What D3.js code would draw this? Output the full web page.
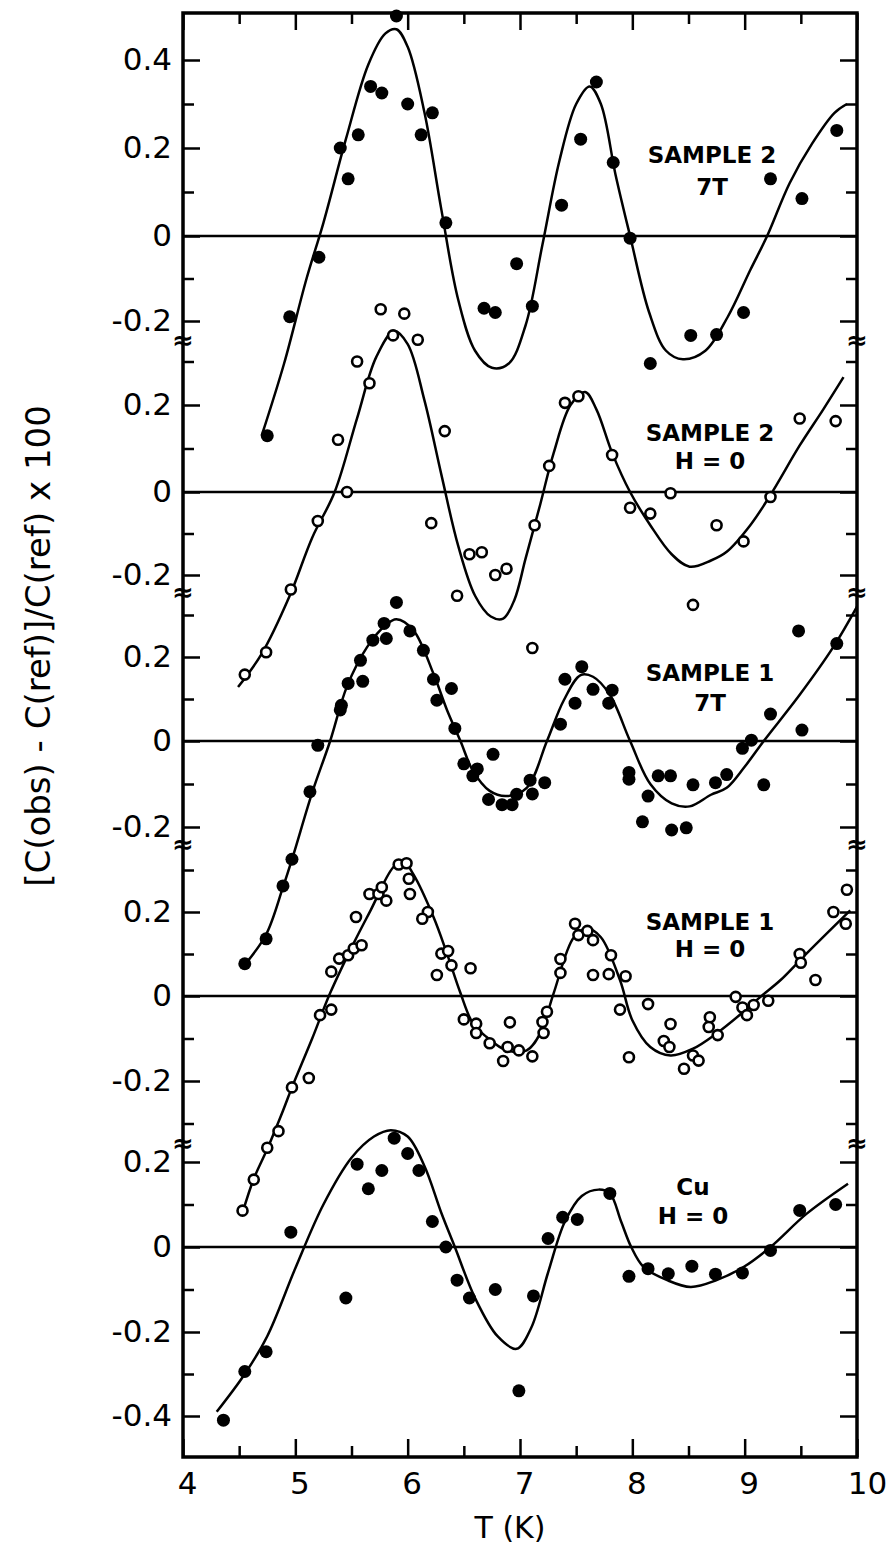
<!DOCTYPE html>
<html>
<head>
<meta charset="utf-8">
<script src="https://cdn.jsdelivr.net/npm/d3@7"></script>
<style>
  body { margin: 0; background: #fff; }
  text { font-family: "DejaVu Sans", sans-serif; }
</style>
</head>
<body>
<div id="chart"></div>
<script>
// data points [T (K), value] per panel, top to bottom
const s2_7T_pts = [[4.75,-0.47],[4.95,-0.19],[5.21,-0.05],[5.40,0.20],[5.47,0.13],[5.56,0.23],[5.67,0.34],[5.77,0.325],[5.90,0.50],[6.00,0.30],[6.12,0.23],[6.22,0.28],[6.34,0.03],[6.68,-0.17],[6.78,-0.18],[6.97,-0.065],[7.11,-0.165],[7.37,0.07],[7.54,0.22],[7.68,0.35],[7.83,0.167],[7.98,-0.005],[8.16,-0.30],[8.52,-0.234],[8.75,-0.232],[8.99,-0.18],[9.23,0.13],[9.51,0.085],[9.82,0.24]]
const s2_7T_fit = [[4.70,-0.47],[4.90,-0.30],[5.10,-0.10],[5.25,0.03],[5.45,0.22],[5.65,0.39],[5.80,0.46],[5.90,0.47],[6.00,0.43],[6.15,0.28],[6.30,0.06],[6.45,-0.15],[6.60,-0.27],[6.75,-0.31],[6.90,-0.30],[7.05,-0.21],[7.20,-0.02],[7.35,0.17],[7.50,0.30],[7.62,0.34],[7.72,0.30],[7.85,0.14],[7.98,0.0],[8.15,-0.18],[8.30,-0.27],[8.45,-0.29],[8.65,-0.27],[8.85,-0.19],[9.05,-0.08],[9.20,0.0],[9.40,0.12],[9.60,0.21],[9.80,0.28],[9.91,0.30]]

const s2_H0_pts = [[4.55,-0.44],[4.74,-0.386],[4.96,-0.235],[5.20,-0.07],[5.38,0.12],[5.46,0.0],[5.55,0.30],[5.66,0.25],[5.76,0.42],[5.87,0.36],[5.97,0.41],[6.09,0.35],[6.21,-0.075],[6.33,0.14],[6.44,-0.25],[6.55,-0.15],[6.66,-0.145],[6.78,-0.20],[6.88,-0.185],[7.11,-0.376],[7.13,-0.08],[7.26,0.06],[7.40,0.205],[7.52,0.22],[7.82,0.085],[7.98,-0.038],[8.16,-0.052],[8.34,-0.003],[8.54,-0.272],[8.75,-0.08],[8.99,-0.119],[9.23,-0.012],[9.49,0.169],[9.81,0.163]]
const s2_H0_fit = [[4.49,-0.47],[4.70,-0.39],[4.95,-0.25],[5.15,-0.11],[5.35,0.0],[5.55,0.17],[5.72,0.31],[5.88,0.37],[6.00,0.34],[6.15,0.21],[6.30,0.04],[6.45,-0.13],[6.60,-0.25],[6.74,-0.30],[6.85,-0.305],[6.95,-0.26],[7.05,-0.16],[7.18,-0.03],[7.30,0.09],[7.45,0.20],[7.58,0.23],[7.68,0.19],[7.82,0.09],[7.98,0.0],[8.16,-0.08],[8.35,-0.15],[8.51,-0.18],[8.70,-0.165],[8.84,-0.144],[9.05,-0.08],[9.23,-0.007],[9.49,0.107],[9.70,0.19],[9.88,0.264]]

const s1_7T_pts = [[4.55,-0.518],[4.74,-0.46],[4.89,-0.337],[4.97,-0.275],[5.13,-0.118],[5.20,-0.01],[5.40,0.074],[5.41,0.085],[5.47,0.137],[5.60,0.142],[5.58,0.192],[5.69,0.24],[5.81,0.244],[5.79,0.28],[5.90,0.33],[6.02,0.262],[6.14,0.216],[6.23,0.147],[6.39,0.125],[6.26,0.097],[6.42,0.03],[6.50,-0.053],[6.62,-0.065],[6.58,-0.081],[6.76,-0.031],[6.72,-0.136],[6.84,-0.148],[6.93,-0.148],[6.97,-0.124],[7.09,-0.091],[7.11,-0.123],[7.22,-0.097],[7.36,0.04],[7.40,0.147],[7.49,0.09],[7.55,0.177],[7.65,0.123],[7.79,0.09],[7.82,0.121],[7.97,-0.073],[7.97,-0.089],[8.14,-0.128],[8.09,-0.188],[8.23,-0.081],[8.34,-0.081],[8.35,-0.207],[8.48,-0.202],[8.54,-0.102],[8.74,-0.097],[8.84,-0.078],[8.98,-0.017],[9.06,0.002],[9.17,-0.102],[9.23,0.064],[9.48,0.262],[9.51,0.026],[9.82,0.232]]
const s1_7T_fit = [[4.55,-0.52],[4.74,-0.45],[4.89,-0.34],[4.98,-0.267],[5.15,-0.12],[5.31,0.0],[5.46,0.13],[5.64,0.224],[5.80,0.275],[5.90,0.29],[6.05,0.264],[6.23,0.16],[6.35,0.074],[6.47,0.0],[6.58,-0.069],[6.73,-0.116],[6.88,-0.128],[7.06,-0.109],[7.24,0.0],[7.39,0.097],[7.54,0.157],[7.65,0.153],[7.80,0.11],[7.98,0.0],[8.16,-0.10],[8.35,-0.145],[8.51,-0.152],[8.70,-0.125],[8.84,-0.109],[9.00,-0.06],[9.17,0.0],[9.49,0.11],[9.79,0.224],[10.0,0.32]]

const s1_H0_pts = [[4.53,-0.505],[4.63,-0.432],[4.75,-0.357],[4.85,-0.318],[4.97,-0.215],[5.12,-0.193],[5.22,-0.045],[5.32,-0.032],[5.32,0.058],[5.39,0.089],[5.47,0.097],[5.52,0.113],[5.59,0.121],[5.54,0.188],[5.66,0.243],[5.74,0.243],[5.77,0.259],[5.81,0.227],[5.92,0.313],[5.99,0.316],[6.01,0.279],[6.02,0.243],[6.18,0.20],[6.13,0.184],[6.30,0.101],[6.36,0.107],[6.26,0.05],[6.39,0.073],[6.56,0.066],[6.50,-0.055],[6.61,-0.065],[6.61,-0.087],[6.73,-0.111],[6.91,-0.062],[6.89,-0.12],[6.85,-0.153],[6.99,-0.128],[7.11,-0.142],[7.21,-0.087],[7.20,-0.061],[7.24,-0.037],[7.36,0.055],[7.36,0.088],[7.49,0.172],[7.52,0.145],[7.60,0.155],[7.65,0.133],[7.65,0.05],[7.79,0.052],[7.81,0.097],[7.94,0.047],[7.89,-0.032],[8.14,-0.019],[7.97,-0.144],[8.34,-0.066],[8.28,-0.106],[8.33,-0.12],[8.46,-0.171],[8.54,-0.14],[8.59,-0.152],[8.69,-0.05],[8.68,-0.073],[8.76,-0.092],[8.92,-0.002],[8.98,-0.027],[9.02,-0.045],[9.08,-0.021],[9.21,-0.011],[9.49,0.10],[9.50,0.079],[9.63,0.038],[9.79,0.20],[9.90,0.172],[9.91,0.253]]
const s1_H0_fit = [[4.53,-0.51],[4.63,-0.43],[4.75,-0.36],[4.89,-0.27],[4.97,-0.215],[5.15,-0.10],[5.31,0.007],[5.52,0.126],[5.67,0.204],[5.87,0.306],[5.96,0.322],[6.05,0.29],[6.23,0.188],[6.35,0.101],[6.47,0.007],[6.58,-0.064],[6.70,-0.096],[6.88,-0.128],[7.06,-0.128],[7.18,-0.088],[7.30,0.007],[7.48,0.14],[7.60,0.16],[7.72,0.14],[7.89,0.038],[8.00,-0.057],[8.16,-0.12],[8.34,-0.14],[8.54,-0.124],[8.75,-0.088],[8.99,-0.037],[9.14,-0.002],[9.32,0.038],[9.55,0.101],[9.94,0.204]]

const cu_H0_pts = [[4.36,-0.41],[4.55,-0.294],[4.74,-0.247],[4.96,0.035],[5.45,-0.12],[5.55,0.195],[5.65,0.137],[5.77,0.18],[5.88,0.256],[6.00,0.22],[6.10,0.18],[6.22,0.06],[6.34,0.0],[6.44,-0.078],[6.55,-0.12],[6.78,-0.10],[6.99,-0.34],[7.12,-0.115],[7.25,0.02],[7.38,0.07],[7.51,0.065],[7.80,0.126],[7.97,-0.069],[8.14,-0.051],[8.32,-0.063],[8.53,-0.045],[8.74,-0.064],[8.98,-0.061],[9.23,-0.008],[9.49,0.086],[9.81,0.10]]
const cu_H0_fit = [[4.30,-0.39],[4.55,-0.30],[4.75,-0.21],[5.00,-0.05],[5.25,0.10],[5.50,0.21],[5.70,0.26],[5.85,0.275],[6.00,0.26],[6.15,0.19],[6.30,0.08],[6.42,0.0],[6.60,-0.12],[6.80,-0.21],[6.97,-0.24],[7.10,-0.19],[7.25,-0.06],[7.40,0.06],[7.55,0.12],[7.70,0.135],[7.80,0.126],[7.90,0.06],[7.99,0.0],[8.10,-0.047],[8.31,-0.078],[8.52,-0.094],[8.75,-0.078],[8.99,-0.047],[9.23,0.0],[9.55,0.078],[9.92,0.149]]

const panelNames = [['SAMPLE 2', '7T'], ['SAMPLE 2', 'H = 0'], ['SAMPLE 1', '7T'], ['SAMPLE 1', 'H = 0'], ['Cu', 'H = 0']]
const panelFilled = [true, false, true, false, true]
const yTickLabels = [[0.4, 0.2, 0, -0.2], [0.2, 0, -0.2], [0.2, 0, -0.2], [0.2, 0, -0.2], [0.2, 0, -0.2, -0.4]]
const yMinorTicks = [[0.3, 0.1, -0.1], [0.3, 0.1, -0.1], [0.3, 0.1, -0.1], [0.3, 0.1, -0.1, -0.3], [0.1, -0.1, -0.3]]
const xTickLabels = [4, 5, 6, 7, 8, 9, 10]
const xMinorTicks = [4.5, 5.5, 6.5, 7.5, 8.5, 9.5]

const panels = [
  { pts: s2_7T_pts, fit: s2_7T_fit },
  { pts: s2_H0_pts, fit: s2_H0_fit },
  { pts: s1_7T_pts, fit: s1_7T_fit },
  { pts: s1_H0_pts, fit: s1_H0_fit },
  { pts: cu_H0_pts, fit: cu_H0_fit },
]

const width = 886, height = 1547
const plotLeft = 183, plotRight = 857, plotTop = 13, plotBottom = 1457

const svg = d3.select('#chart').append('svg')
  .attr('width', width)
  .attr('height', height)
  .style('background', '#fff')

const x = d3.scaleLinear().domain([4, 10]).range([plotLeft, plotRight])

// one y scale per panel (the original figure is slightly stretched at the top)
const yScales = [
  d3.scaleLinear().domain([-0.2, 0, 0.4]).range([321, 236, 60]),
  d3.scaleLinear().domain([-0.2, 0, 0.2]).range([575, 492, 405]),
  d3.scaleLinear().domain([-0.2, 0, 0.2]).range([827, 741, 657]),
  d3.scaleLinear().domain([-0.2, 0, 0.2]).range([1081, 996, 912]),
  d3.scaleLinear().domain([-0.4, -0.2, 0, 0.2]).range([1416, 1332, 1247, 1162]),
]
// axis break marks, in units of the panel above
const breakAt = [-0.245, -0.24, -0.24, -0.345]

const fontSize = 31
const majorLen = 17, minorLen = 11

function styleAxis(g) {
  g.select('.domain').remove()
  g.selectAll('line').attr('stroke', '#000').attr('stroke-width', 2.5)
  g.selectAll('text')
    .attr('fill', '#000')
    .style('font-family', '"DejaVu Sans", sans-serif')
    .style('font-size', fontSize + 'px')
}

// plain hyphen for the minus sign, as on the original
const fmt = d => d === 0 ? '0' : d.toFixed(1)

yScales.forEach((y, i) => {
  svg.append('g')
    .attr('transform', `translate(${plotLeft},0)`)
    .call(d3.axisLeft(y).tickValues(yTickLabels[i]).tickSize(-majorLen).tickPadding(11).tickFormat(fmt))
    .call(styleAxis)
  svg.append('g')
    .attr('transform', `translate(${plotLeft},0)`)
    .call(d3.axisLeft(y).tickValues(yMinorTicks[i]).tickSize(-minorLen).tickFormat(''))
    .call(styleAxis)
  svg.append('g')
    .attr('transform', `translate(${plotRight},0)`)
    .call(d3.axisRight(y).tickValues(yTickLabels[i]).tickSize(-majorLen).tickFormat(''))
    .call(styleAxis)
  svg.append('g')
    .attr('transform', `translate(${plotRight},0)`)
    .call(d3.axisRight(y).tickValues(yMinorTicks[i]).tickSize(-minorLen).tickFormat(''))
    .call(styleAxis)

  // zero line
  svg.append('line')
    .attr('x1', x(4)).attr('x2', x(10))
    .attr('y1', y(0)).attr('y2', y(0))
    .attr('stroke', '#000').attr('stroke-width', 2.5)
})

svg.append('g')
  .attr('transform', `translate(0,${plotBottom})`)
  .call(d3.axisBottom(x).tickValues(xTickLabels).tickSize(-18).tickPadding(15).tickFormat(d3.format('d')))
  .call(styleAxis)
  .call(g => g.selectAll('text').attr('dx', d => d === 10 ? 10 : 4))
svg.append('g')
  .attr('transform', `translate(0,${plotBottom})`)
  .call(d3.axisBottom(x).tickValues(xMinorTicks).tickSize(-11).tickFormat(''))
  .call(styleAxis)
svg.append('g')
  .attr('transform', `translate(0,${plotTop})`)
  .call(d3.axisTop(x).tickValues(xTickLabels).tickSize(-majorLen).tickFormat(''))
  .call(styleAxis)
svg.append('g')
  .attr('transform', `translate(0,${plotTop})`)
  .call(d3.axisTop(x).tickValues(xMinorTicks).tickSize(-minorLen).tickFormat(''))
  .call(styleAxis)

// frame
svg.append('rect')
  .attr('x', plotLeft).attr('y', plotTop)
  .attr('width', plotRight - plotLeft).attr('height', plotBottom - plotTop)
  .attr('fill', 'none').attr('stroke', '#000').attr('stroke-width', 3.5)

// break marks on both vertical axes
breakAt.forEach((v, i) => {
  const yb = yScales[i](v)
  for (const xa of [plotLeft, plotRight]) {
    svg.append('text')
      .attr('x', xa).attr('y', yb)
      .attr('text-anchor', 'middle')
      .attr('dominant-baseline', 'central')
      .style('font-size', '26px')
      .style('font-weight', 'bold')
      .text('≈')
  }
})

// fitted curves and data points
panels.forEach((p, i) => {
  const y = yScales[i]
  const line = d3.line()
    .x(d => x(d[0]))
    .y(d => y(d[1]))
    .curve(d3.curveCatmullRom.alpha(0.5))

  svg.append('path')
    .datum(p.fit)
    .attr('d', line)
    .attr('fill', 'none')
    .attr('stroke', '#000')
    .attr('stroke-width', 2.5)

  svg.append('g')
    .selectAll('circle')
    .data(p.pts)
    .join('circle')
    .attr('cx', d => x(d[0]))
    .attr('cy', d => y(d[1]))
    .attr('r', panelFilled[i] ? 6.5 : 5)
    .attr('fill', panelFilled[i] ? '#000' : '#fff')
    .attr('stroke', '#000')
    .attr('stroke-width', panelFilled[i] ? 0 : 2.6)
})

// panel labels
const labelPos = [[712, 155, 187], [710, 433, 461], [710, 673, 703], [710, 922, 949], [693, 1187, 1216]]
panelNames.forEach((n, i) => {
  const [lx, y1, y2] = labelPos[i]
  const g = svg.append('g')
    .attr('text-anchor', 'middle')
    .style('font-size', '23px')
    .style('font-weight', 'bold')
  g.append('text').attr('x', lx).attr('y', y1).attr('dy', '0.36em').text(n[0])
  g.append('text').attr('x', lx).attr('y', y2).attr('dy', '0.36em').text(n[1])
})

// axis titles
svg.append('text')
  .attr('x', 510).attr('y', 1538)
  .attr('text-anchor', 'middle')
  .style('font-size', '30px')
  .text('T (K)')

svg.append('text')
  .attr('transform', 'translate(50,646) rotate(-90)')
  .attr('text-anchor', 'middle')
  .style('font-size', '34px')
  .text('[C(obs) - C(ref)]/C(ref) x 100')
</script>
</body>
</html>
